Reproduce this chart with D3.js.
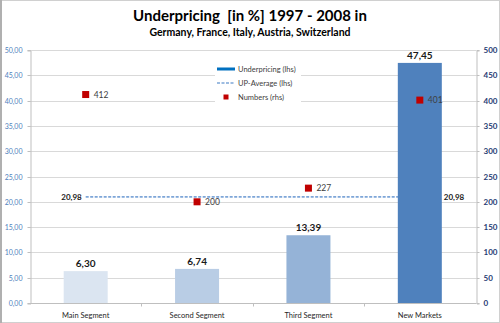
<!DOCTYPE html>
<html>
<head>
<meta charset="utf-8">
<script src="https://cdn.jsdelivr.net/npm/d3@7"></script>
<style>
  body { margin: 0; background: #fff; }
  text { font-family: Lato, "Open Sans", sans-serif; }
</style>
</head>
<body>
<svg id="chart" width="500" height="323"></svg>
<script>
const categories = ["Main Segment", "Second Segment", "Third Segment", "New Markets"];
const underpricing = [6.30, 6.74, 13.39, 47.45];
const numbers = [412, 200, 227, 401];
const upAverage = 20.98;
const leftTicks = [0, 5, 10, 15, 20, 25, 30, 35, 40, 45, 50];
const rightTicks = [0, 50, 100, 150, 200, 250, 300, 350, 400, 450, 500];
const barColors = ["#dbe5f1", "#b9cde5", "#95b3d7", "#4f81bd"];

const width = 500,
  height = 323,
  margin = { top: 50, right: 24, bottom: 20, left: 30 };

const svg = d3.select("#chart");

const locale = d3.formatLocale({ decimal: ",", thousands: ".", grouping: [3], currency: ["", ""] });
const f2 = locale.format(".2f");

const x = d3
  .scaleBand()
  .domain(categories)
  .range([margin.left, width - margin.right - 0.5])
  .padding(0);

const y = d3.scaleLinear().domain([0, 50]).range([height - margin.bottom, margin.top]);
const y2 = d3.scaleLinear().domain([0, 500]).range([height - margin.bottom, margin.top]);

const barW = 44;

// frame
svg
  .append("rect")
  .attr("x", 0.5)
  .attr("y", 0.5)
  .attr("width", width - 1)
  .attr("height", height - 1)
  .attr("fill", "none")
  .attr("stroke", "#d0d0d0");
svg
  .append("line")
  .attr("x1", 1)
  .attr("x2", 1)
  .attr("y1", 0)
  .attr("y2", height)
  .attr("stroke", "#b0b0b0")
  .attr("stroke-width", 2);

// gridlines
svg
  .append("g")
  .selectAll("line")
  .data(leftTicks.slice(1))
  .join("line")
  .attr("x1", margin.left)
  .attr("x2", width - margin.right)
  .attr("y1", (d) => Math.round(y(d)) + 0.5)
  .attr("y2", (d) => Math.round(y(d)) + 0.5)
  .attr("stroke", "#d9d9d9");

// left axis
const gl = svg
  .append("g")
  .attr("transform", `translate(${margin.left + 0.5},0.5)`)
  .call(d3.axisLeft(y).tickValues(leftTicks).tickFormat(f2).tickSize(3).tickPadding(5));
gl.select(".domain").attr("stroke", "#bfbfbf");
gl.selectAll(".tick line").attr("stroke", "#bfbfbf");
gl.selectAll(".tick text").attr("fill", "#4f81bd").style("font-size", "7px");
gl.selectAll(".tick").attr("transform", (d) => `translate(0,${Math.round(y(d))})`);

// right axis
const gr = svg
  .append("g")
  .attr("transform", `translate(${width - margin.right + 0.5},0.5)`)
  .call(d3.axisRight(y2).tickValues(rightTicks).tickSize(3).tickPadding(4));
gr.select(".domain").attr("stroke", "#bfbfbf");
gr.selectAll(".tick line").attr("stroke", "#bfbfbf");
gr.selectAll(".tick text").attr("fill", "#1f3b73").style("font-size", "8px").style("font-weight", "bold");
gr.selectAll(".tick").attr("transform", (d) => `translate(0,${Math.round(y2(d))})`);

// bottom axis
const gb = svg
  .append("g")
  .attr("transform", `translate(0,${Math.round(y(0)) + 0.5})`);
gb.append("line")
  .attr("x1", margin.left)
  .attr("x2", width - margin.right)
  .attr("stroke", "#bfbfbf");
gb.selectAll(".sep")
  .data(categories.slice(1))
  .join("line")
  .attr("x1", (d) => Math.round(x(d)) + 0.5)
  .attr("x2", (d) => Math.round(x(d)) + 0.5)
  .attr("y1", 0)
  .attr("y2", 3)
  .attr("stroke", "#bfbfbf");
gb.selectAll(".lab")
  .data(categories)
  .join("text")
  .attr("x", (d) => x(d) + x.bandwidth() / 2)
  .attr("y", 14)
  .attr("text-anchor", "middle")
  .attr("fill", "#262626")
  .style("font-size", "7.5px")
  .text((d) => d);

// average line
const avgY = y(upAverage);
svg
  .append("line")
  .attr("x1", x(categories[0]) + x.bandwidth() / 2)
  .attr("x2", x(categories[3]) + x.bandwidth() / 2)
  .attr("y1", avgY)
  .attr("y2", avgY)
  .attr("stroke", "#7ea6d8")
  .attr("stroke-width", 1.6)
  .attr("stroke-dasharray", "3,1.5");

// bars
svg
  .append("g")
  .selectAll("rect")
  .data(underpricing)
  .join("rect")
  .attr("x", (d, i) => x(categories[i]) + (x.bandwidth() - barW) / 2)
  .attr("width", barW)
  .attr("y", (d) => y(d))
  .attr("height", (d) => y(0) - y(d))
  .attr("fill", (d, i) => barColors[i]);

svg
  .append("g")
  .selectAll("text")
  .data(underpricing)
  .join("text")
  .attr("x", (d, i) => x(categories[i]) + x.bandwidth() / 2)
  .attr("y", (d) => y(d) - 4)
  .attr("text-anchor", "middle")
  .attr("fill", "#1a1a1a")
  .style("font-size", "10px")
  .style("font-weight", "bold")
  .text((d) => f2(d));

// average labels
svg
  .append("text")
  .attr("x", x(categories[0]) + x.bandwidth() / 2 - 4)
  .attr("y", avgY)
  .attr("dy", "0.35em")
  .attr("text-anchor", "end")
  .style("font-size", "8px")
  .style("font-weight", "bold")
  .attr("fill", "#1a1a1a")
  .text(f2(upAverage));
svg
  .append("text")
  .attr("x", x(categories[3]) + x.bandwidth() / 2 + barW / 2 + 2)
  .attr("y", avgY)
  .attr("dy", "0.35em")
  .style("font-size", "8px")
  .style("font-weight", "bold")
  .attr("fill", "#1a1a1a")
  .text(f2(upAverage));

// numbers markers
const mk = svg.append("g").selectAll("g").data(numbers).join("g")
  .attr("transform", (d, i) => `translate(${x(categories[i]) + x.bandwidth() / 2},${y2(d)})`);
mk.append("rect")
  .attr("x", -3.5)
  .attr("y", -3.5)
  .attr("width", 7)
  .attr("height", 7)
  .attr("fill", "#c00000");
mk.append("text")
  .attr("x", 8)
  .attr("dy", "0.35em")
  .style("font-size", "8.5px")
  .attr("fill", "#404040")
  .text((d) => d);

// legend
const lg = svg.append("g").attr("transform", "translate(215,60)");
lg.append("rect").attr("width", 86).attr("height", 45).attr("fill", "#fff");
lg.append("rect").attr("x", 2).attr("y", 7.5).attr("width", 18).attr("height", 3).attr("fill", "#0070c0");
lg.append("line")
  .attr("x1", 2).attr("x2", 20).attr("y1", 23).attr("y2", 23)
  .attr("stroke", "#7ea6d8").attr("stroke-width", 1.6).attr("stroke-dasharray", "3,1.5");
lg.append("rect").attr("x", 8.5).attr("y", 34.5).attr("width", 5).attr("height", 5).attr("fill", "#c00000");
const legendLabels = ["Underpricing (lhs)", "UP-Average (lhs)", "Numbers (rhs)"];
lg.selectAll(".lt")
  .data(legendLabels)
  .join("text")
  .attr("x", 23)
  .attr("y", (d, i) => 9 + i * 14)
  .attr("dy", "0.35em")
  .style("font-size", "7.5px")
  .attr("fill", "#404040")
  .text((d) => d);

// titles
svg
  .append("text")
  .attr("x", width / 2)
  .attr("y", 21)
  .attr("text-anchor", "middle")
  .style("font-size", "15px")
  .style("font-weight", "bold")
  .attr("fill", "#000")
  .attr("xml:space", "preserve")
  .text("Underpricing  [in %] 1997 - 2008 in");
svg
  .append("text")
  .attr("x", width / 2)
  .attr("y", 36)
  .attr("text-anchor", "middle")
  .style("font-size", "10.5px")
  .style("font-weight", "bold")
  .attr("fill", "#000")
  .text("Germany, France, Italy, Austria, Switzerland");
</script>
</body>
</html>
